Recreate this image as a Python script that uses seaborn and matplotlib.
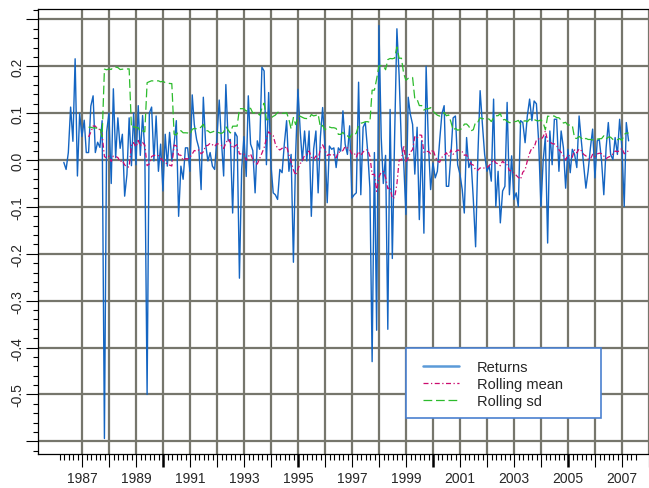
import numpy as np
import pandas as pd
import matplotlib
matplotlib.use("Agg")
import matplotlib.pyplot as plt
import seaborn as sns
from matplotlib.patches import Rectangle
from matplotlib.lines import Line2D

# ---------------- data (monthly returns) ----------------
start_date = "1986-04-30"
window = 12
returns = [
    -0.005, -0.02, 0.016, 0.113, 0.04, 0.216, -0.034, 0.10, 0.05, 0.085, 0.016, 0.016,
    0.115, 0.137, 0.016, 0.038, 0.027, 0.084, -0.594, 0.06, 0.1, -0.05, 0.152, 0.005,
    0.09, 0.025, 0.055, -0.077, -0.031, 0.09, -0.012, 0.1, -0.01, 0.116, 0.01, 0.095,
    0.02, -0.5, 0.1, 0.113, -0.002, 0.094, -0.024, 0.034, -0.066, 0.055, -0.013, 0.059,
    -0.002, 0.034, 0.084, -0.12, -0.013, -0.041, 0.026, 0.026, -0.024, 0.139, 0.076, 0.044,
    0.026, -0.063, 0.134, 0.034, -0.002, 0.016, -0.013, -0.02, 0.048, 0.128, 0.044, -0.034,
    0.161, 0.041, 0.044, -0.113, 0.059, 0.05, -0.252, -0.02, 0.05, -0.035, 0.137, 0.034,
    0.02, -0.07, 0.041, 0.023, 0.198, 0.19, -0.01, 0.144, -0.01, -0.07, -0.074, -0.084,
    -0.02, -0.027, 0.034, 0.084, -0.024, 0.012, -0.218, 0.012, 0.151, 0.062, -0.002, 0.062,
    -0.002, 0.062, -0.12, 0.023, 0.062, -0.07, 0.05, 0.112, 0.03, -0.091, 0.03, 0.023,
    0.026, -0.016, 0.026, 0.019, 0.105, 0.034, 0.012, 0.073, -0.081, -0.074, -0.07, 0.166,
    -0.074, 0.07, 0.08, 0.02, -0.06, -0.43, 0.016, -0.363, 0.287, 0.048, -0.05, 0.01,
    -0.361, 0.108, -0.21, 0.05, 0.28, 0.18, 0.03, -0.002, -0.116, 0.134, 0.098, 0.076,
    -0.03, 0.07, -0.127, 0.041, -0.156, 0.2, 0.034, -0.063, -0.006, -0.038, -0.024, 0.041,
    0.098, 0.116, -0.056, -0.056, 0.012, 0.09, 0.094, -0.01, -0.03, -0.063, -0.113, 0.048,
    -0.016, -0.002, -0.084, -0.185, 0.012, 0.148, 0.076, 0.012, -0.024, -0.013, -0.045, 0.13,
    -0.099, -0.024, -0.134, -0.066, -0.056, 0.123, -0.074, 0.009, -0.084, -0.07, -0.099, 0.084,
    0.08, 0.037, 0.094, 0.13, 0.084, 0.126, 0.12, 0.04, -0.099, 0.0, 0.05, -0.177,
    0.062, -0.01, 0.087, 0.087, -0.024, 0.062, 0.026, -0.06, 0.023, -0.027, 0.023, 0.012,
    -0.016, 0.094, 0.041, -0.01, -0.06, -0.024, 0.026, 0.066, -0.038, 0.041, 0.044, -0.002,
    -0.074, 0.026, 0.08, 0.012, 0.001, 0.048, 0.012, 0.087, 0.026, -0.099, 0.08, 0.041,
]
series_names = ["Returns", "Rolling mean", "Rolling sd"]
year_ticks = list(range(1987, 2009))
year_labels = [str(y) if y % 2 == 1 and y < 2008 else "" for y in year_ticks]
y_ticks = [0.3, 0.2, 0.1, 0.0, -0.1, -0.2, -0.3, -0.4, -0.5, -0.6]
y_labels = ["", "0.2", "0.1", "0.0", "-0.1", "-0.2", "-0.3", "-0.4", "-0.5", ""]

# ---------------- style ----------------
sns.set_style("white")
plt.rcParams["font.family"] = ["Liberation Sans", "DejaVu Sans"]
plt.rcParams["axes.unicode_minus"] = False

dates = pd.date_range(start_date, periods=len(returns), freq=pd.offsets.MonthEnd())
t = dates.year + (dates.dayofyear - 1) / np.where(dates.is_leap_year, 366, 365)
s = pd.Series(returns)
df = pd.DataFrame({
    "t": np.asarray(t, dtype=float),
    series_names[0]: s,
    series_names[1]: s.rolling(window).mean(),
    series_names[2]: s.rolling(window).std(),
})

W, H = 649, 489
fig = plt.figure(figsize=(W / 100, H / 100), dpi=100)
ax = fig.add_axes([38 / W, 34 / H, (W - 38) / W, 445 / H])

colors = {"Returns": "#1465c2", "Rolling mean": "#cc0a6e", "Rolling sd": "#2cbb2c"}
dashes = {"Returns": "-", "Rolling mean": (0, (4, 2, 1, 2)), "Rolling sd": (0, (7, 3))}
widths = {"Returns": 1.0, "Rolling mean": 0.9, "Rolling sd": 0.9}
for name in series_names:
    sns.lineplot(data=df.dropna(subset=[name]), x="t", y=name, ax=ax, estimator=None,
                 color=colors[name], linestyle=dashes[name], lw=widths[name],
                 label=name, zorder=3)

ax.set_xlim(1985.37, 2008.0)
ax.set_ylim(-0.627, 0.3222)
ax.set_xlabel("")
ax.set_ylabel("")

ax.set_xticks(year_ticks)
ax.set_xticklabels(year_labels)
ax.set_xticks(np.arange(1986 + 1 / 6, 2007.55, 1 / 6), minor=True)
ax.set_yticks(y_ticks)
ax.set_yticklabels(y_labels, rotation=90, va="center")
ax.set_yticks(np.arange(-0.62, 0.321, 0.02), minor=True)

ax.tick_params(axis="x", which="major", direction="out", length=9.5, width=0.8,
               color="black", labelsize=10, pad=2.5, bottom=True)
ax.tick_params(axis="x", which="minor", direction="out", length=4.5, width=0.8,
               color="black", bottom=True)
ax.tick_params(axis="y", which="major", direction="out", length=8.4, width=0.8,
               color="black", labelsize=10, pad=1.5, left=True)
ax.tick_params(axis="y", which="minor", direction="out", length=3.6, width=0.8,
               color="black", left=True)
for tick in ax.xaxis.get_major_ticks():
    if int(round(tick.get_loc())) % 5 == 0:
        tick.tick1line.set_markeredgewidth(1.8)

ax.grid(True, which="major", color="#76766c", lw=1.6)
ax.set_axisbelow(True)

for side in ["left", "bottom", "top"]:
    ax.spines[side].set_visible(True)
    ax.spines[side].set_color("black")
    ax.spines[side].set_linewidth(0.9)
ax.spines["right"].set_visible(False)

# legend box
box = Rectangle((405.7 / W, (H - 419) / H), 195.3 / W, 70.3 / H,
                transform=fig.transFigure, facecolor="white", edgecolor="#4a80cf",
                lw=1.2, zorder=8, clip_on=False)
ax.add_patch(box)
labels = series_names
handles = [
    Line2D([], [], color="#5b9ad8", lw=1.8),
    Line2D([], [], color=colors["Rolling mean"], lw=0.9, linestyle=dashes["Rolling mean"]),
    Line2D([], [], color=colors["Rolling sd"], lw=0.9, linestyle=dashes["Rolling sd"]),
]
leg = ax.legend(handles, labels, loc="upper left",
                bbox_to_anchor=(423 / W, (H - 361) / H), bbox_transform=fig.transFigure,
                frameon=False, fontsize=10.5, borderpad=0, borderaxespad=0,
                handlelength=2.47, handletextpad=1.2, labelspacing=0.2)
leg.set_zorder(10)

fig.savefig("out.png", dpi=100)
